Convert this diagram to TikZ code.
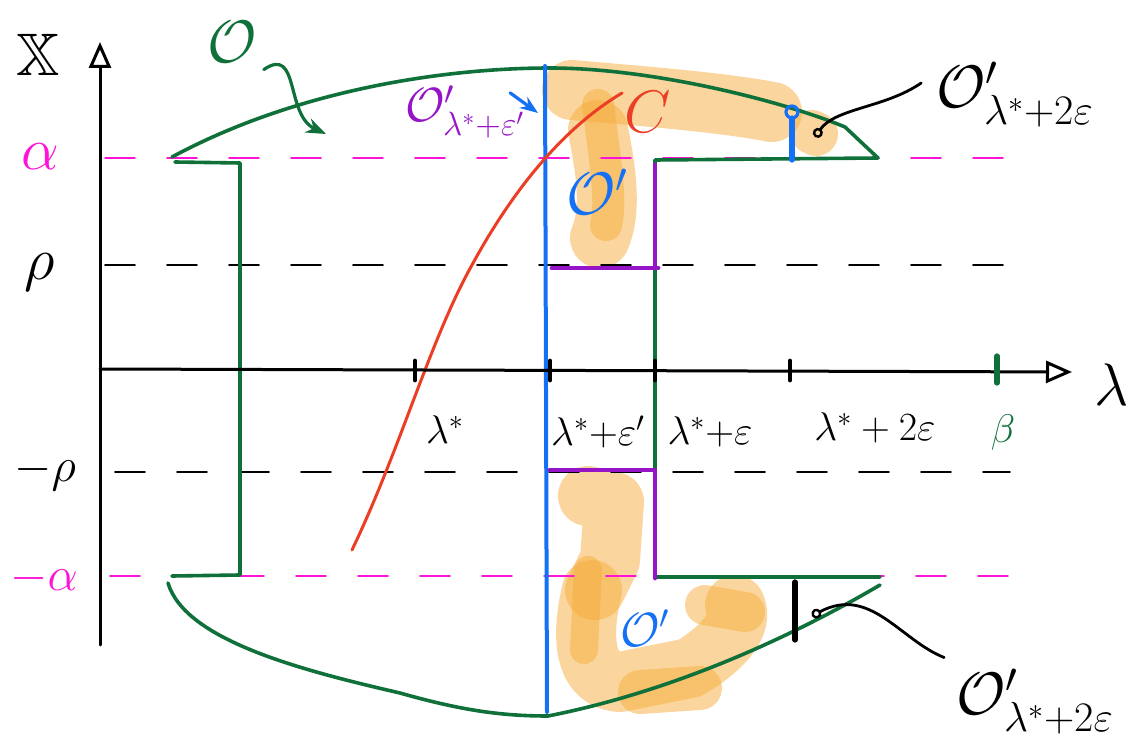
\documentclass[tikz,border=0pt]{standalone}
\usepackage{fix-cm}
\usepackage{amsmath}
\usepackage{amssymb}
\usepackage{tikz}
\usetikzlibrary{arrows.meta, positioning, calc}
\definecolor{domgreen}{RGB}{16,112,58}
\definecolor{hotpink}{RGB}{255,20,215}
\definecolor{penblue}{RGB}{20,112,245}
\definecolor{penpurple}{RGB}{150,20,200}
\definecolor{penred}{RGB}{236,62,36}
\definecolor{hlcol}{RGB}{246,172,60}

\begin{document}
\begin{tikzpicture}[x=0.5pt,y=-0.5pt,line cap=round,line join=round,
    axis/.style={line width=1.5pt,-{Triangle[open,length=13pt,width=11pt,line width=1.5pt]}},
    guide/.style={line width=0.9pt,dash pattern=on 15pt off 16pt},
    dom/.style={domgreen,line width=1.8pt},
    purp/.style={penpurple,line width=2.4pt},
    hl/.style={draw=hlcol,line width=30pt,opacity=0.5},
    ptr/.style={line width=1.4pt,-{Circle[open,length=5pt,line width=1.2pt]}},
    biglbl/.style={font=\fontsize{30}{36}\selectfont},
    ticklbl/.style={font=\fontsize{20}{24}\selectfont},
    sublbl/.style={font=\fontsize{24}{28}\selectfont}]
    \useasboundingbox (0,0) rectangle (1142,749);
    \draw[hl] (572,90) .. controls (640,96) and (720,102) .. (772,112);
    \draw[hl,line width=22pt] (812,132) -- (816,134);
    \draw[hl] (598,130) .. controls (606,170) and (612,210) .. (600,238);
    \draw[hl,line width=16pt] (598,105) .. controls (605,160) and (612,200) .. (606,225);
    \draw[hl] (588,496) -- (614,502) -- (610,560) -- (595,590);
    \draw[hl] (592,590) .. controls (580,640) and (585,680) .. (620,682) -- (690,668)
        .. controls (720,650) and (745,625) .. (735,605);
    \draw[hl,line width=22pt] (640,692) -- (700,688);
    \draw[hl,line width=20pt] (705,605) -- (745,612);
    \draw[hl,line width=14pt] (588,570) -- (584,650);
    \draw[guide,hotpink] (105,158) -- (1030,158);
    \draw[guide] (105,265) -- (1020,265);
    \draw[guide] (115,472) -- (1010,472);
    \draw[guide,hotpink] (110,576) -- (1030,576);
    \draw[dom] (172,157) .. controls (300,88) and (450,68) .. (550,68)
        .. controls (650,68) and (780,100) .. (845,127) -- (878,158) -- (655,160)
        -- (655,577) -- (880,577);
    \draw[dom] (880,585) .. controls (800,632) and (680,690) .. (548,716)
        .. controls (500,716) and (460,710) .. (400,693)
        .. controls (300,670) and (185,640) .. (168,583);
    \draw[dom] (175,162) -- (240,163) -- (240,575) -- (172,576);
    \draw[penblue,line width=2pt] (545,66) -- (547,712);
    \draw[purp] (552,268) -- (658,268);
    \draw[purp] (655,165) -- (655,268);
    \draw[purp] (550,470) -- (655,470) -- (655,578);
    \draw[penred,line width=1.5pt] (352,550) .. controls (400,450) and (430,340) .. (472,265)
        .. controls (510,195) and (560,130) .. (622,93);
    \draw[axis] (100,645) -- (100,42);
    \draw[axis] (100,369) -- (1072,372);
    \foreach \x in {415,550,655,790}
        \draw[line width=2.4pt] (\x,361) -- (\x,380);
    \draw[domgreen,line width=2.6pt] (997,356) -- (997,383);
    \draw[penblue,line width=2.6pt] (792,160) -- (792,118);
    \draw[penblue,line width=1.6pt] (792,112) circle (3pt);
    \draw[line width=2.6pt] (795,582) -- (795,640);
    \node[biglbl] (X) at (38,55) {$\mathbb{X}$};
    \node[biglbl] (lam) at (1112,385) {$\lambda$};
    \node[biglbl,text=hotpink] (alp) at (40,157) {$\alpha$};
    \node[biglbl] (rho) at (40,272) {$\rho$};
    \node[sublbl] (mrho) at (45,472) {$-\rho$};
    \node[sublbl,text=hotpink] (malp) at (44,578) {$-\alpha$};
    \node[ticklbl] (t1) at (445,430) {$\lambda^*$};
    \node[ticklbl] (t2) at (598,432) {$\lambda^*{+}\varepsilon'$};
    \node[ticklbl] (t3) at (710,432) {$\lambda^*{+}\varepsilon$};
    \node[ticklbl] (t4) at (875,428) {$\lambda^*+2\varepsilon$};
    \node[ticklbl,text=domgreen] (t5) at (1003,432) {$\beta$};
    \node[biglbl,text=penred] (C) at (648,112) {$C$};
    \node[biglbl,text=domgreen] (Olab) at (232,42) {$\mathcal{O}$};
    \node[biglbl,text=penblue] (Otop) at (597,192) {$\mathcal{O}'$};
    \node[sublbl,text=penblue] (Obot) at (645,628) {$\mathcal{O}'$};
    \node[sublbl,text=penpurple] (Oeps) at (465,112) {$\mathcal{O}'_{\lambda^*+\varepsilon'}$};
    \node[biglbl] (Otr) at (1015,95) {$\mathcal{O}'_{\lambda^*+2\varepsilon}$};
    \node[biglbl] (Obr) at (1035,702) {$\mathcal{O}'_{\lambda^*+2\varepsilon}$};
    \coordinate (Ohit) at (326,134);
    \coordinate (Bhit) at (538,113);
    \coordinate (Thit) at (815,137);
    \coordinate (Lhit) at (812,616);
    \draw[dom,line width=1.6pt,-{Stealth[length=10pt]}] (Olab.south east)
        .. controls (300,45) and (285,115) .. (Ohit);
    \draw[penblue,line width=1.6pt,-{Stealth[length=9pt]}] ([shift={(-22,14)}]Oeps.north east) -- (Bhit);
    \draw[ptr] ([shift={(-8,-12)}]Otr.west) .. controls (885,108) and (835,108) .. (Thit);
    \draw[ptr] ([shift={(-5,-5)}]Obr.north west) .. controls (900,640) and (870,585) .. (Lhit);
\end{tikzpicture}
\end{document}
